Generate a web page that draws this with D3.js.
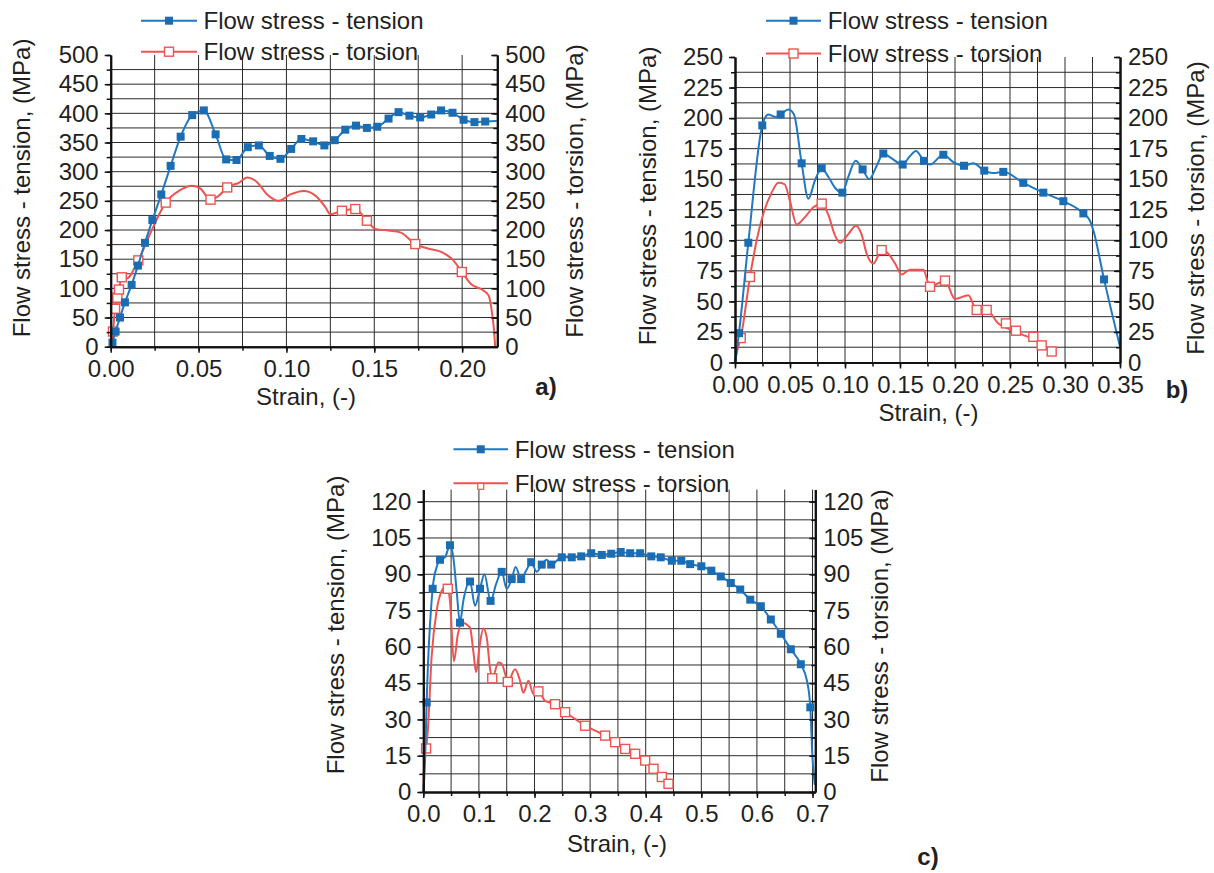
<!DOCTYPE html>
<html>
<head>
<meta charset="utf-8">
<script src="https://cdn.jsdelivr.net/npm/d3@7"></script>
<style>
  body { margin: 0; background: #fff; }
  text { font-family: "Liberation Sans", Arial, sans-serif; fill: #231f20; }
</style>
</head>
<body>
<svg id="fig" width="1214" height="873"></svg>
<script>
// ---- data: [strain, stress MPa] ----
var tensionA = [[0.001,7],[0.0028,26],[0.0053,50],[0.0081,76],[0.0119,106],[0.0155,139],[0.0195,178],[0.0237,217],[0.0288,261],[0.0341,310],[0.0398,360],[0.0464,397],[0.053,405],[0.0597,364],[0.0657,321],[0.0716,320],[0.078,342],[0.0843,345],[0.0905,327],[0.0966,322],[0.1027,339],[0.1085,356],[0.1152,352],[0.1216,345],[0.1275,354],[0.1335,372],[0.1396,379],[0.1458,375],[0.1517,377],[0.1581,391],[0.1638,402],[0.17,396],[0.1761,393],[0.1824,398],[0.188,405],[0.1945,401],[0.2008,389],[0.207,385],[0.2131,386],[0.2197,387]];
var tensionAMarks = tensionA.slice(0, -1);
var torsionA = [[0,0],[0.0013,26],[0.0025,65],[0.0038,84],[0.0047,98],[0.0063,119],[0.009,117],[0.0157,148],[0.0237,202],[0.0313,247],[0.0388,267],[0.0464,276],[0.0511,271],[0.0568,252],[0.0616,259],[0.0663,273],[0.0729,281],[0.0777,290],[0.0833,282],[0.089,261],[0.0956,250],[0.1023,261],[0.1098,267],[0.1165,259],[0.1222,239],[0.125,227],[0.1316,233],[0.1392,236],[0.1458,216],[0.1506,202],[0.1581,199],[0.1648,196],[0.1733,176],[0.1809,168],[0.1884,162],[0.195,148],[0.1998,128],[0.2055,106],[0.2112,98],[0.215,88],[0.2169,60],[0.2182,26],[0.2188,0]];
var torsionAMarks = [[0.0013,26],[0.0025,65],[0.0038,84],[0.0047,98],[0.0063,119],[0.0157,148],[0.0313,247],[0.0568,252],[0.0663,273],[0.1316,233],[0.1392,236],[0.1458,216],[0.1733,176],[0.1998,128]];

var tensionB = [[0,0],[0.0036,24],[0.0121,98],[0.0248,194],[0.0303,203],[0.0364,201],[0.0415,203],[0.0485,207],[0.0536,203],[0.0606,163],[0.0667,134],[0.0727,149],[0.0788,159],[0.0848,152],[0.0909,143],[0.0976,139],[0.103,152],[0.1097,165],[0.116,158],[0.1221,150],[0.1288,161],[0.1348,171],[0.1424,167],[0.1524,162],[0.1591,169],[0.1645,173],[0.1718,165],[0.1773,162],[0.1894,170],[0.1985,164],[0.2082,161],[0.2166,163],[0.2266,157],[0.2348,155],[0.2439,156],[0.2621,147],[0.2803,139],[0.2985,132],[0.3167,122],[0.3227,116],[0.3258,108],[0.3355,68],[0.35,13]];
var tensionBMarks = [[0.0036,24],[0.0121,98],[0.0248,194],[0.0415,203],[0.0606,163],[0.0788,159],[0.0976,139],[0.116,158],[0.1348,171],[0.1524,162],[0.1718,165],[0.1894,170],[0.2082,161],[0.2266,157],[0.2439,156],[0.2621,147],[0.2803,139],[0.2985,132],[0.3167,122],[0.3355,68]];
var torsionB = [[0,0],[0.0021,10],[0.0052,20],[0.0136,70],[0.0197,100],[0.0258,122],[0.0333,139],[0.0394,147],[0.045,146],[0.05,132],[0.056,113],[0.0636,119],[0.0712,127],[0.0788,130],[0.0848,121],[0.0909,104],[0.0955,98],[0.103,105],[0.11,112],[0.115,105],[0.1197,89],[0.1258,81],[0.1333,92],[0.1394,89],[0.1455,81],[0.1515,72],[0.1591,76],[0.1712,76],[0.1773,62],[0.1909,67],[0.2,52],[0.2121,55],[0.2197,43],[0.2288,43],[0.2394,32],[0.25,27],[0.2606,23],[0.2712,19],[0.2803,14],[0.2879,9],[0.2918,6]];
var torsionBMarks = [[0.0052,20],[0.0136,70],[0.0788,130],[0.1333,92],[0.1773,62],[0.1909,67],[0.2197,43],[0.2288,43],[0.2463,32],[0.2554,26],[0.2712,21],[0.2788,14],[0.2879,9]];

var tensionC = [[0,0],[0.003,12],[0.006,37],[0.0168,84],[0.024,93],[0.03,96],[0.039,97],[0.048,102],[0.054,97],[0.06,83],[0.066,70],[0.072,79],[0.084,87],[0.093,77],[0.102,84],[0.11,90],[0.121,79],[0.131,86],[0.141,91],[0.15,84],[0.159,88],[0.166,93],[0.176,88],[0.186,92],[0.194,95],[0.204,91],[0.213,94],[0.222,96],[0.23,94],[0.249,97],[0.267,97],[0.284,97.4],[0.302,98.7],[0.321,98],[0.338,98.5],[0.355,99.2],[0.372,98.7],[0.39,98.7],[0.41,97.4],[0.427,97],[0.447,95.6],[0.464,95.6],[0.48,94.2],[0.5,93.3],[0.518,91.5],[0.535,89.1],[0.553,86.4],[0.57,83.7],[0.588,79.5],[0.607,76.8],[0.625,71.3],[0.643,65.4],[0.661,59],[0.679,52.8],[0.69,46],[0.696,35],[0.7,14],[0.704,3]];
var tensionCMarks = [[0.006,37],[0.0168,84],[0.03,96],[0.048,102],[0.066,70],[0.084,87],[0.102,84],[0.121,79],[0.141,91],[0.159,88],[0.176,88],[0.194,95],[0.213,94],[0.23,94],[0.249,97],[0.267,97],[0.284,97.4],[0.302,98.7],[0.321,98],[0.338,98.5],[0.355,99.2],[0.372,98.7],[0.39,98.7],[0.41,97.4],[0.427,97],[0.447,95.6],[0.464,95.6],[0.48,94.2],[0.5,93.3],[0.518,91.5],[0.535,89.1],[0.553,86.4],[0.57,83.7],[0.588,79.5],[0.607,76.8],[0.625,71.3],[0.643,65.4],[0.661,59],[0.679,52.8],[0.696,35]];
var torsionC = [[0,0],[0.002,14],[0.005,18],[0.008,25],[0.015,56],[0.024,75],[0.033,83],[0.039,84.5],[0.044,84],[0.048,79],[0.055,54],[0.062,65],[0.069,70],[0.084,68],[0.09,58],[0.095,49.5],[0.101,60],[0.108,67.6],[0.114,64],[0.12,51],[0.124,47],[0.135,53.5],[0.141,53],[0.147,49],[0.152,45.5],[0.165,50.7],[0.174,46],[0.18,41],[0.189,46],[0.198,40.5],[0.207,41.6],[0.219,37.7],[0.237,36.3],[0.255,33],[0.273,30.2],[0.291,27.4],[0.309,25.4],[0.327,23.3],[0.345,20.6],[0.363,17.8],[0.381,15.8],[0.399,13],[0.414,9.6],[0.429,6.2],[0.441,3.4],[0.447,2.7]];
var torsionCMarks = [[0.005,18],[0.044,84],[0.124,47],[0.152,45.5],[0.207,41.6],[0.237,36.3],[0.255,33],[0.291,27.4],[0.327,23.3],[0.345,20.6],[0.363,17.8],[0.381,15.8],[0.399,13],[0.414,9.6],[0.429,6.2],[0.441,3.4]];

// tick labels
var xTicksA = [0, 0.05, 0.10, 0.15, 0.20];
var yTicksA = [0, 50, 100, 150, 200, 250, 300, 350, 400, 450, 500];
var xTicksB = [0, 0.05, 0.10, 0.15, 0.20, 0.25, 0.30, 0.35];
var yTicksB = [0, 25, 50, 75, 100, 125, 150, 175, 200, 225, 250];
var xTicksC = [0, 0.1, 0.2, 0.3, 0.4, 0.5, 0.6, 0.7];
var yTicksC = [0, 15, 30, 45, 60, 75, 90, 105, 120];

var legendLabels = ["Flow stress - tension", "Flow stress - torsion"];
var BLUE = "#1f78c1", RED = "#ef5350";
var FONT = 24;

var svg = d3.select("#fig");

function drawPanel(p) {
    var x = d3.scaleLinear().domain([0, p.xMax]).range([p.left, p.right]);
    var y = d3.scaleLinear().domain([0, p.yMax]).range([p.bottom, p.top]);
    var g = svg.append("g");

    // grid at every minor step
    var xGrid = d3.range(p.xMinor, p.xMax - 1e-6, p.xMinor);
    var yGrid = d3.range(p.yMinor, p.yMax - 1e-6, p.yMinor);
    g.selectAll(".vg").data(xGrid).enter().append("line")
        .attr("x1", x).attr("x2", x)
        .attr("y1", p.bottom).attr("y2", p.top)
        .attr("stroke", "#2b2b2b").attr("stroke-width", 1);
    g.selectAll(".hg").data(yGrid).enter().append("line")
        .attr("y1", y).attr("y2", y)
        .attr("x1", p.left).attr("x2", p.right)
        .attr("stroke", "#2b2b2b").attr("stroke-width", 1);

    var line = d3.line()
        .x(function(d) { return x(d[0]); })
        .y(function(d) { return y(d[1]); })
        .curve(d3.curveMonotoneX);

    // torsion
    g.append("path").attr("d", line(p.torsion))
        .attr("fill", "none").attr("stroke", RED).attr("stroke-width", 2);
    g.selectAll(".tm").data(p.torsionMarks).enter().append("rect")
        .attr("x", function(d) { return x(d[0]) - 4.5; })
        .attr("y", function(d) { return y(d[1]) - 4.5; })
        .attr("width", 9).attr("height", 9)
        .attr("fill", "#fff").attr("stroke", RED).attr("stroke-width", 1.4);

    // tension
    g.append("path").attr("d", line(p.tension))
        .attr("fill", "none").attr("stroke", BLUE).attr("stroke-width", 2);
    g.selectAll(".sm").data(p.tensionMarks).enter().append("rect")
        .attr("x", function(d) { return x(d[0]) - 4; })
        .attr("y", function(d) { return y(d[1]) - 4; })
        .attr("width", 8).attr("height", 8)
        .attr("fill", "#1a6db3");

    // axes
    function style(sel) {
        sel.select(".domain").attr("stroke", "#111").attr("stroke-width", 2);
        sel.selectAll(".tick line").attr("stroke", "#111").attr("stroke-width", 1.5);
        sel.selectAll("text").attr("font-size", FONT).attr("font-family", "Liberation Sans, Arial, sans-serif").attr("fill", "#231f20");
    }
    var xMinorTicks = d3.range(0, p.xMax + 1e-6, p.xMinor);
    var yMinorTicks = d3.range(0, p.yMax + 1e-6, p.yMinor);

    g.append("g").attr("transform", "translate(0," + p.bottom + ")")
        .call(d3.axisBottom(x).tickValues(xMinorTicks).tickSize(4).tickSizeOuter(0).tickFormat(""))
        .call(style);
    g.append("g").attr("transform", "translate(0," + p.bottom + ")")
        .call(d3.axisBottom(x).tickValues(p.xTicks).tickSize(6).tickSizeOuter(0).tickPadding(7).tickFormat(d3.format(p.xFmt)))
        .call(style);

    g.append("g").attr("transform", "translate(" + p.left + ",0)")
        .call(d3.axisLeft(y).tickValues(yMinorTicks).tickSize(4).tickSizeOuter(0).tickFormat(""))
        .call(style);
    g.append("g").attr("transform", "translate(" + p.left + ",0)")
        .call(d3.axisLeft(y).tickValues(p.yTicks).tickSize(6).tickSizeOuter(0).tickPadding(6))
        .call(style);

    g.append("g").attr("transform", "translate(" + p.right + ",0)")
        .call(d3.axisRight(y).tickValues(yMinorTicks).tickSize(-4).tickSizeOuter(0).tickFormat(""))
        .call(style);
    g.append("g").attr("transform", "translate(" + p.right + ",0)")
        .call(d3.axisRight(y).tickValues(p.yTicks).tickSize(-6).tickSizeOuter(0).tickPadding(8))
        .call(style);

    // titles
    g.append("text").attr("transform", "translate(" + p.lt[0] + "," + p.lt[1] + ") rotate(-90)")
        .attr("text-anchor", "middle").attr("dy", "0.35em").attr("font-size", FONT)
        .text("Flow stress - tension, (MPa)");
    g.append("text").attr("transform", "translate(" + p.rt[0] + "," + p.rt[1] + ") rotate(-90)")
        .attr("text-anchor", "middle").attr("dy", "0.35em").attr("font-size", FONT)
        .text("Flow stress - torsion, (MPa)");
    g.append("text").attr("x", p.xt[0]).attr("y", p.xt[1])
        .attr("text-anchor", "middle").attr("dy", "0.35em").attr("font-size", FONT)
        .text("Strain, (-)");
    g.append("text").attr("x", p.tag[0]).attr("y", p.tag[1])
        .attr("text-anchor", "middle").attr("dy", "0.35em").attr("font-size", FONT)
        .attr("font-weight", "bold").text(p.tagText);

    // legend
    var lg = p.legend;
    var mid = (lg.x1 + lg.x2) / 2;
    g.append("line").attr("x1", lg.x1).attr("x2", lg.x2).attr("y1", lg.y1).attr("y2", lg.y1)
        .attr("stroke", BLUE).attr("stroke-width", 2);
    g.append("rect").attr("x", mid - 4).attr("y", lg.y1 - 4).attr("width", 8).attr("height", 8).attr("fill", "#1a6db3");
    g.append("line").attr("x1", lg.x1).attr("x2", lg.x2).attr("y1", lg.y2).attr("y2", lg.y2)
        .attr("stroke", RED).attr("stroke-width", 2);
    if (p.tagText === "c)") {
        g.append("rect").attr("x", mid - 3).attr("y", lg.y2).attr("width", 6).attr("height", 6)
            .attr("fill", "#fff").attr("stroke", RED).attr("stroke-width", 1.2);
    } else {
        g.append("rect").attr("x", mid - 4.5).attr("y", lg.y2 - 4.5).attr("width", 9).attr("height", 9)
            .attr("fill", "#fff").attr("stroke", RED).attr("stroke-width", 1.4);
    }
    g.selectAll(".lt").data(legendLabels).enter().append("text")
        .attr("x", lg.tx)
        .attr("y", function(d, i) { return i === 0 ? lg.y1 : lg.y2; })
        .attr("dy", "0.35em").attr("font-size", FONT)
        .text(function(d) { return d; });
}

drawPanel({
    xMax: 0.22, yMax: 500, xMinor: 0.025, yMinor: 25, xFmt: ".2f",
    xTicks: xTicksA, yTicks: yTicksA,
    left: 110.7, right: 497.3, top: 55, bottom: 346.7,
    tension: tensionA, tensionMarks: tensionAMarks, torsion: torsionA, torsionMarks: torsionAMarks,
    lt: [22, 188], rt: [575, 191], xt: [306, 397], tag: [546, 387], tagText: "a)",
    legend: { x1: 141, x2: 197, y1: 20.7, y2: 51.7, tx: 203.5 }
});

drawPanel({
    xMax: 0.35, yMax: 250, xMinor: 0.025, yMinor: 12.5, xFmt: ".2f",
    xTicks: xTicksB, yTicks: yTicksB,
    left: 735, right: 1120, top: 57, bottom: 362.5,
    tension: tensionB, tensionMarks: tensionBMarks, torsion: torsionB, torsionMarks: torsionBMarks,
    lt: [648, 196], rt: [1196, 208], xt: [928.6, 413], tag: [1177, 390], tagText: "b)",
    legend: { x1: 766, x2: 821, y1: 20.7, y2: 53.5, tx: 827.7 }
});

drawPanel({
    xMax: 0.705, yMax: 125, xMinor: 0.05, yMinor: 7.5, xFmt: ".1f",
    xTicks: xTicksC, yTicks: yTicksC,
    left: 423.3, right: 815.3, top: 489.6, bottom: 792,
    tension: tensionC, tensionMarks: tensionCMarks, torsion: torsionC, torsionMarks: torsionCMarks,
    lt: [336, 625], rt: [880, 636], xt: [617, 844], tag: [928, 857], tagText: "c)",
    legend: { x1: 453.5, x2: 508, y1: 449.3, y2: 483.3, tx: 514.7 }
});
</script>
</body>
</html>
